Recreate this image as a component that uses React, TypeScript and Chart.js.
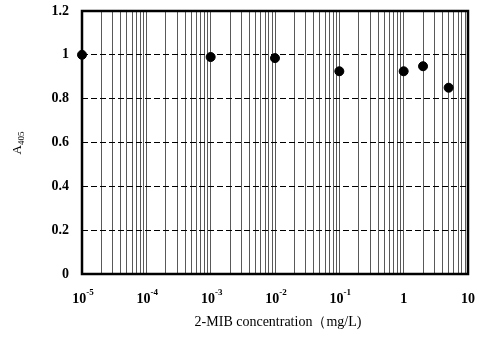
import React, { useEffect, useRef } from "react";
import { Chart, registerables } from "chart.js";

Chart.register(...registerables);

const concentrations = [1e-5, 1e-3, 1e-2, 1e-1, 1, 2, 5];
const absorbance = [1.0, 0.99, 0.985, 0.925, 0.925, 0.948, 0.85];
const decadeValues = [1e-5, 1e-4, 1e-3, 1e-2, 1e-1, 1, 10];
const decadeBase = ["10", "10", "10", "10", "10", "1", "10"];
const decadeExp = ["-5", "-4", "-3", "-2", "-1", "", ""];
const yTicks = [0, 0.2, 0.4, 0.6, 0.8, 1, 1.2];
const xTitle = "2-MIB concentration（mg/L)";
const yTitleMain = "A";
const yTitleSub = "405";

const SERIF = "'Liberation Serif', 'Times New Roman', serif";

export default function App() {
  const ref = useRef<HTMLCanvasElement>(null);
  useEffect(() => {
    const canvas = ref.current!;
    const frame = {
      id: "frame",
      afterDraw(chart: any) {
        const { ctx, chartArea: a } = chart;
        const xs = chart.scales.x;
        ctx.save();
        ctx.strokeStyle = "#000";
        ctx.lineWidth = 2.5;
        ctx.strokeRect(a.left, a.top, a.right - a.left, a.bottom - a.top);
        ctx.fillStyle = "#000";
        // x tick labels with superscripts
        ctx.textBaseline = "alphabetic";
        decadeValues.forEach((v, i) => {
          const px = xs.getPixelForValue(v);
          ctx.font = `bold 14px ${SERIF}`;
          const bw = ctx.measureText(decadeBase[i]).width;
          ctx.font = `bold 9px ${SERIF}`;
          const ew = decadeExp[i] ? ctx.measureText(decadeExp[i]).width : 0;
          const total = bw + ew;
          const x0 = px - total / 2 + (decadeExp[i] ? 1 : 0);
          ctx.textAlign = "left";
          ctx.font = `bold 14px ${SERIF}`;
          ctx.fillText(decadeBase[i], x0, a.bottom + 29);
          if (decadeExp[i]) {
            ctx.font = `bold 9px ${SERIF}`;
            ctx.fillText(decadeExp[i], x0 + bw, a.bottom + 21);
          }
        });
        // x title
        ctx.font = `14px ${SERIF}`;
        ctx.textAlign = "center";
        ctx.textBaseline = "middle";
        ctx.fillText(xTitle, 278, 322);
        // y title
        ctx.translate(17, 143);
        ctx.rotate(-Math.PI / 2);
        ctx.textAlign = "left";
        ctx.textBaseline = "alphabetic";
        ctx.font = `13px ${SERIF}`;
        const aw = ctx.measureText(yTitleMain).width;
        ctx.font = `9px ${SERIF}`;
        const sw = ctx.measureText(yTitleSub).width;
        const start = -(aw + sw) / 2;
        ctx.font = `13px ${SERIF}`;
        ctx.fillText(yTitleMain, start, 4);
        ctx.font = `9px ${SERIF}`;
        ctx.fillText(yTitleSub, start + aw, 7);
        ctx.restore();
      },
    };
    const chart = new Chart(canvas, {
      type: "scatter",
      data: {
        datasets: [
          {
            data: concentrations.map((x, i) => ({ x, y: absorbance[i] })),
            backgroundColor: "#000",
            borderColor: "#000",
            pointRadius: 4.5,
            clip: false as any,
          },
        ],
      },
      options: {
        animation: false,
        responsive: false,
        layout: { padding: { top: 11, right: 13, left: 0, bottom: 0 } },
        plugins: { legend: { display: false }, tooltip: { enabled: false } },
        scales: {
          x: {
            type: "logarithmic",
            min: 1e-5,
            max: 10,
            afterBuildTicks(axis: any) {
              const t: any[] = [];
              for (let e = -5; e <= 0; e++) {
                for (let m = 1; m <= 9; m++) t.push({ value: m * Math.pow(10, e) });
              }
              t.push({ value: 10 });
              axis.ticks = t;
            },
            afterFit(axis: any) {
              axis.height = 69;
              axis.paddingLeft = 0;
              axis.paddingRight = 0;
            },
            ticks: {
              autoSkip: false,
              maxRotation: 0,
              display: true,
              color: "rgba(0,0,0,0)",
              font: { size: 1 },
              callback() {
                return "";
              },
            },
            grid: {
              color: "rgba(60,60,60,0.85)",
              lineWidth: 1,
              drawTicks: false,
            },
            border: { display: false },
          },
          y: {
            min: 0,
            max: 1.2,
            afterBuildTicks(axis: any) {
              axis.ticks = yTicks.map((v) => ({ value: v }));
            },
            afterFit(axis: any) {
              axis.width = 82;
              axis.paddingTop = 0;
              axis.paddingBottom = 0;
            },
            ticks: {
              padding: 13,
              color: "#000",
              font: { family: SERIF, size: 14, weight: "bold" },
              callback(v: any) {
                return String(Number(Number(v).toFixed(1)));
              },
            },
            grid: {
              color: "#000",
              lineWidth: 1,
              drawTicks: false,
            },
            border: { display: false, dash: [6, 3] } as any,
          },
        },
      },
      plugins: [frame],
    } as any);
    return () => chart.destroy();
  }, []);
  return (
    <div style={{ position: "fixed", left: 0, top: 0, width: 481, height: 343, background: "#fff" }}>
      <canvas ref={ref} width={481} height={343} style={{ width: 481, height: 343 }} />
    </div>
  );
}
